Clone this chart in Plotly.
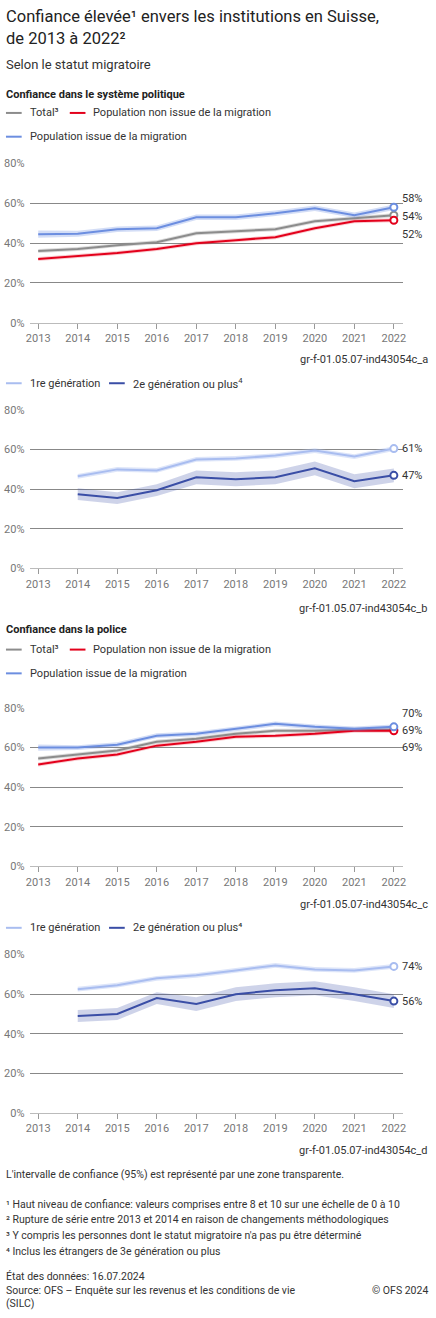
import plotly.graph_objects as go

years = [2013, 2014, 2015, 2016, 2017, 2018, 2019, 2020, 2021, 2022]
years_b = years[1:]

# Panel a: political system
pol_mig = [44.5, 44.7, 47, 47.5, 53, 53, 55, 57.5, 54, 58]
pol_tot = [36, 37, 39, 40.5, 45, 46, 47, 51, 52.5, 54]
pol_non = [32, 33.5, 35, 37, 40, 41.5, 43, 47.5, 51, 51.5]
pol_mig_ci = [1.8, 1.5, 1.4, 1.4, 1.4, 1.4, 1.4, 1.4, 1.4, 1.4]
pol_tot_ci = [1.0] * 10
pol_non_ci = [1.0] * 10
# Panel b: generations
pol_g1 = [46.5, 50, 49.5, 55, 55.5, 57, 59.5, 56.5, 60.5]
pol_g2 = [37.5, 35.5, 39.5, 46, 45, 46, 50.5, 44, 47]
pol_g1_ci = [1.2] * 9
pol_g2_ci = [3, 3, 3, 3.5, 3.5, 3.5, 3.5, 3.5, 3.5]
pol_b_labels = ["61%", "47%"]
# Panel c: police
fed_mig = [60, 60, 61.5, 66, 67, 69.5, 72, 70.5, 69.5, 70.5]
fed_tot = [54.5, 56.5, 58.5, 63, 64.5, 67, 68.5, 68.5, 69, 69]
fed_non = [51.5, 54.5, 56.5, 61, 63, 65.5, 66, 67, 68.5, 68.5]
fed_mig_ci = [1.6, 1.2, 1.2, 1.2, 1.2, 1.2, 1.2, 1.2, 1.2, 1.2]
fed_tot_ci = [1.0] * 10
fed_non_ci = [1.0] * 10
fed_end_labels = ["70%", "69%", "69%"]
# Panel d
fed_g1 = [62.5, 64.5, 68, 69.5, 72, 74.5, 72.5, 72, 74]
fed_g2 = [49, 50, 58, 55, 60, 62, 63, 60, 56.5]
fed_g1_ci = [1.2] * 9
fed_g2_ci = [3, 3, 3, 3.5, 3.5, 3.5, 3.5, 3.5, 3.5]

GRAY = "#8c8c8c"; RED = "#e3001b"; BLUE = "#6c8ee0"; LBLUE = "#a9bdf0"; DBLUE = "#3a4ea6"
FONT = "Roboto"
W, H = 436, 1318

fig = go.Figure()

domains = {1: [1-320/H, 1-159/H], 2: [1-568/H, 1-408/H], 3: [1-869/H, 1-709/H], 4: [1-1118/H, 1-958/H]}

def rgba(hexc, a):
    h = hexc.lstrip("#")
    return "rgba(%d,%d,%d,%s)" % (int(h[0:2], 16), int(h[2:4], 16), int(h[4:6], 16), a)

def series(k, xs, ys, ci, color, bandcolor, balpha):
    xa = "x" if k == 1 else "x%d" % k
    ya = "y" if k == 1 else "y%d" % k
    up = [y + c for y, c in zip(ys, ci)]
    lo = [y - c for y, c in zip(ys, ci)]
    fig.add_trace(go.Scatter(x=xs + xs[::-1], y=up + lo[::-1], fill="toself", mode="none",
                             fillcolor=rgba(bandcolor, balpha), xaxis=xa, yaxis=ya,
                             showlegend=False, hoverinfo="skip"))
    fig.add_trace(go.Scatter(x=xs, y=ys, mode="lines", line=dict(color=color, width=2),
                             xaxis=xa, yaxis=ya, showlegend=False))
    fig.add_trace(go.Scatter(x=[xs[-1]], y=[ys[-1]], mode="markers",
                             marker=dict(symbol="circle", size=7, color="white",
                                         line=dict(color=color, width=2)),
                             xaxis=xa, yaxis=ya, showlegend=False))

def endlabel(k, x, y, text, yshift=0):
    xa = "x" if k == 1 else "x%d" % k
    ya = "y" if k == 1 else "y%d" % k
    fig.add_annotation(x=x, y=y, xref=xa, yref=ya, text=text, showarrow=False,
                       xanchor="left", xshift=6, yshift=yshift,
                       font=dict(family=FONT, size=11, color="#333"))

series(1, years, pol_tot, pol_tot_ci, GRAY, GRAY, 0.3)
series(1, years, pol_non, pol_non_ci, RED, RED, 0.2)
series(1, years, pol_mig, pol_mig_ci, BLUE, BLUE, 0.3)
endlabel(1, 2022, pol_mig[-1], "%d%%" % round(pol_mig[-1]), 9)
endlabel(1, 2022, pol_tot[-1], "%d%%" % round(pol_tot[-1]), -1)
endlabel(1, 2022, pol_non[-1], "%d%%" % round(pol_non[-1]), -14)

series(2, years_b, pol_g2, pol_g2_ci, DBLUE, DBLUE, 0.25)
series(2, years_b, pol_g1, pol_g1_ci, LBLUE, LBLUE, 0.4)
endlabel(2, 2022, pol_g1[-1], pol_b_labels[0])
endlabel(2, 2022, pol_g2[-1], pol_b_labels[1])

series(3, years, fed_tot, fed_tot_ci, GRAY, GRAY, 0.3)
series(3, years, fed_non, fed_non_ci, RED, RED, 0.2)
series(3, years, fed_mig, fed_mig_ci, BLUE, BLUE, 0.3)
endlabel(3, 2022, fed_mig[-1], fed_end_labels[0], 13)
endlabel(3, 2022, fed_non[-1], fed_end_labels[1], 0)
endlabel(3, 2022, fed_tot[-1], fed_end_labels[2], -18)

series(4, years_b, fed_g2, fed_g2_ci, DBLUE, DBLUE, 0.25)
series(4, years_b, fed_g1, fed_g1_ci, LBLUE, LBLUE, 0.4)
endlabel(4, 2022, fed_g1[-1], "%d%%" % round(fed_g1[-1]))
endlabel(4, 2022, fed_g2[-1], "%d%%" % round(fed_g2[-1]))

axfont = dict(family=FONT, size=11, color="#777")
for k in range(1, 5):
    sx = "" if k == 1 else str(k)
    fig.layout["xaxis" + sx] = dict(domain=[26/W, 406/W], range=[2012.78, 2022.22],
                                    anchor="y" + sx, tickvals=years, ticks="outside",
                                    ticklen=5, tickcolor="#999", showgrid=False,
                                    showline=True, linecolor="#bbb", tickfont=axfont,
                                    zeroline=False, fixedrange=True)
    fig.layout["yaxis" + sx] = dict(domain=domains[k], range=[0, 80], anchor="x" + sx,
                                    tickvals=[0, 20, 40, 60, 80],
                                    ticktext=["0%", "20%", "40%", "60%", "80%"],
                                    gridcolor="#888", gridwidth=1, tickfont=axfont,
                                    zeroline=False, showline=False, ticklabelstandoff=4)

def txt(x, y, text, size=11, color="#333", anchor="left", bold=False):
    if bold:
        text = "<b>%s</b>" % text
    fig.add_annotation(x=x/W, y=1-y/H, xref="paper", yref="paper", text=text, showarrow=False,
                       xanchor=anchor, yanchor="middle", font=dict(family=FONT, size=size, color=color),
                       align="left")

def leg(x, y, color, label):
    fig.add_shape(type="line", x0=x/W, x1=(x+16)/W, y0=1-y/H, y1=1-y/H, xref="paper", yref="paper",
                  line=dict(color=color, width=2))
    txt(x + 22, y, label)

txt(0, 11, "Confiance élevée¹ envers les institutions en Suisse,", 16.5, "#222")
txt(0, 33, "de 2013 à 2022²", 16.5, "#222")
txt(0, 59, "Selon le statut migratoire", 13, "#333")
txt(0, 89, "Confiance dans le système politique", 11, "#222", bold=True)
leg(2, 108, GRAY, "Total³"); leg(67, 108, RED, "Population non issue de la migration")
leg(2, 132, BLUE, "Population issue de la migration")
txt(434, 357, "gr-f-01.05.07-ind43054c_a", 11, "#333", "right")
leg(2, 381, LBLUE, "1re génération"); leg(107, 381, DBLUE, "2e génération ou plus<sup>4</sup>")
txt(434, 608, "gr-f-01.05.07-ind43054c_b", 11, "#333", "right")
txt(0, 630, "Confiance dans la police", 11, "#222", bold=True)
leg(2, 650, GRAY, "Total³"); leg(67, 650, RED, "Population non issue de la migration")
leg(2, 674, BLUE, "Population issue de la migration")
txt(434, 907, "gr-f-01.05.07-ind43054c_c", 11, "#333", "right")
leg(2, 931, LBLUE, "1re génération"); leg(107, 931, DBLUE, "2e génération ou plus⁴")
txt(434, 1156, "gr-f-01.05.07-ind43054c_d", 11, "#333", "right")
txt(0, 1180, "L'intervalle de confiance (95%) est représenté par une zone transparente.", 10.5)
txt(0, 1210, "¹ Haut niveau de confiance: valeurs comprises entre 8 et 10 sur une échelle de 0 à 10", 10.5)
txt(0, 1226, "² Rupture de série entre 2013 et 2014 en raison de changements méthodologiques", 10.5)
txt(0, 1242, "³ Y compris les personnes dont le statut migratoire n'a pas pu être déterminé", 10.5)
txt(0, 1258, "⁴ Inclus les étrangers de 3e génération ou plus", 10.5)
txt(0, 1283, "État des données: 16.07.2024", 10.5)
txt(0, 1297, "Source: OFS – Enquête sur les revenus et les conditions de vie", 10.5)
txt(0, 1310, "(SILC)", 10.5)
txt(434, 1297, "© OFS 2024", 10.5, "#333", "right")

fig.update_layout(width=W, height=H, margin=dict(l=0, r=0, t=0, b=0),
                  plot_bgcolor="white", paper_bgcolor="white", showlegend=False,
                  font=dict(family=FONT))
fig.write_html("out.html", config={"displayModeBar": False},
               post_script="document.body.style.margin='0';document.body.style.overflow='hidden';")
